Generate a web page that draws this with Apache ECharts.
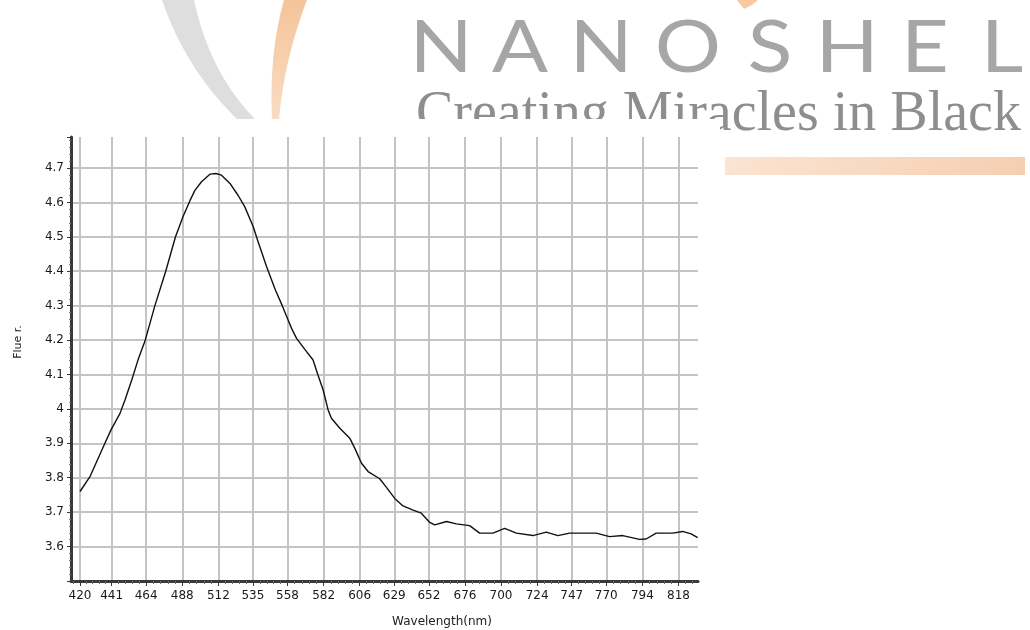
<!DOCTYPE html>
<html><head><meta charset="utf-8">
<script src="https://cdn.jsdelivr.net/npm/echarts@6/dist/echarts.min.js"></script>
<style>html,body{margin:0;padding:0;background:#fff}#c{width:1030px;height:630px}</style>
</head><body><div id="c"></div>
<script>
// ---- data ----
const wavelength = [420, 426.6, 435.5, 440.6, 446.6, 449.9, 454.4, 458.7, 463.2, 469.8, 477.0, 483.5, 488.6, 493.1, 496.4, 500.8, 506.4, 510.4, 514.1, 519.7, 525.2, 529.6, 535.2, 538.5, 544.1, 550.0, 554.5, 557.3, 560.7, 564.0, 569.5, 575.0, 578.3, 581.7, 585.0, 587.2, 592.8, 599.4, 602.7, 607.2, 611.6, 619.3, 623.8, 629.3, 634.8, 641.5, 647.0, 652.6, 655.9, 663.7, 670.3, 679.1, 685.8, 694.6, 702.4, 710.2, 721.2, 730.1, 737.8, 745.6, 763.3, 772.2, 781.0, 792.1, 796.5, 803.2, 814.2, 820.8, 826.4, 830.8];
const fluor = [3.760, 3.803, 3.890, 3.939, 3.987, 4.026, 4.084, 4.144, 4.197, 4.300, 4.400, 4.500, 4.560, 4.605, 4.635, 4.660, 4.682, 4.684, 4.679, 4.655, 4.620, 4.587, 4.529, 4.485, 4.413, 4.345, 4.300, 4.270, 4.234, 4.205, 4.173, 4.142, 4.098, 4.055, 3.997, 3.973, 3.944, 3.915, 3.886, 3.842, 3.818, 3.797, 3.772, 3.740, 3.718, 3.706, 3.697, 3.670, 3.663, 3.673, 3.666, 3.661, 3.639, 3.639, 3.653, 3.639, 3.632, 3.642, 3.632, 3.639, 3.639, 3.629, 3.632, 3.621, 3.622, 3.639, 3.639, 3.644, 3.637, 3.626];
const xTickLabels = [420, 441, 464, 488, 512, 535, 558, 582, 606, 629, 652, 676, 700, 724, 747, 770, 794, 818];
const yTickLabels = [3.6, 3.7, 3.8, 3.9, 4.0, 4.1, 4.2, 4.3, 4.4, 4.5, 4.6, 4.7];
const xAxisName = 'Wavelength(nm)';
const yAxisName = 'Flue r.';
const logoLetters = ['N', 'A', 'N', 'O', 'S', 'H', 'E', 'L'];
const tagline = 'Creating Miracles in Black';

// ---- layout ----
const xMin = 414, xMax = 831, yMin = 3.5, yMax = 4.79;
const gridRect = {left: 71, top: 137, width: 627, height: 444};

// minor tick positions between the labelled ticks
const xMinor = [];
for (let i = 0; i < xTickLabels.length - 1; i++) {
  const a = xTickLabels[i], b = xTickLabels[i + 1];
  for (let k = 1; k < 5; k++) xMinor.push(a + (b - a) * k / 5);
}
xMinor.push(822.7, 827.4, 415.8);

const data = wavelength.map((w, i) => [w, fluor[i]]);
const letterX = [441, 520, 601, 688, 770, 847, 925, 1002];

// decorative crescent shapes for the logo (quadratic edges sampled into polygons)
function quad(p0, c, p1, n) {
  const pts = [];
  for (let i = 0; i <= n; i++) {
    const t = i / n, u = 1 - t;
    pts.push([u * u * p0[0] + 2 * u * t * c[0] + t * t * p1[0], u * u * p0[1] + 2 * u * t * c[1] + t * t * p1[1]]);
  }
  return pts;
}
function crescent(a0, a1, ca, b0, b1, cb) {
  return quad(a0, ca, a1, 20).concat(quad(b1, cb, b0, 20));
}
function lin(x2, y2, c0, c1) {
  return {type: 'linear', x: 0, y: 0, x2: x2, y2: y2, colorStops: [{offset: 0, color: c0}, {offset: 1, color: c1}]};
}

const graphics = [];
graphics.push({type: 'polygon', z: -5, shape: {points: crescent([162, 0], [238, 120], [186, 70], [194, 0], [256, 120], [210, 74])}, style: {fill: '#dedede'}});
graphics.push({type: 'polygon', z: -5, shape: {points: crescent([284, 0], [272, 120], [269, 52], [307, 0], [279, 120], [284, 60])}, style: {fill: lin(0, 1, '#f5c49a', '#f9dcc4')}});
graphics.push({type: 'polygon', z: -5, shape: {points: [[737, 0], [758, 0], [752, 5], [744, 9]]}, style: {fill: '#f6c9a3'}});
logoLetters.forEach((ch, i) => {
  graphics.push({type: 'text', z: -5, x: letterX[i], y: 49, scaleX: 1.15,
    style: {text: ch, font: '400 72px Lato', fill: '#a6a6a6', align: 'center', verticalAlign: 'middle'}});
});
graphics.push({type: 'text', z: -5, x: 416, y: 115,
  style: {text: tagline, font: '56px "Liberation Serif"', fill: '#8e8e8e', align: 'left', verticalAlign: 'middle'}});
graphics.push({type: 'rect', z: -5, shape: {x: 725, y: 157, width: 300, height: 18}, style: {fill: lin(1, 0, '#fbe4d2', '#f5cfb1')}});
// white chart panel covering the logo
graphics.push({type: 'rect', z: -2, shape: {x: 0, y: 119, width: 720, height: 511}, style: {fill: '#ffffff'}});
// axis names
graphics.push({type: 'text', x: 442, y: 622,
  style: {text: xAxisName, font: '12px "DejaVu Sans"', fill: '#222', align: 'center', verticalAlign: 'middle'}});
graphics.push({type: 'text', x: 18, y: 342, rotation: Math.PI / 2,
  style: {text: yAxisName, font: '11px "DejaVu Sans"', fill: '#222', align: 'center', verticalAlign: 'middle'}});

const axisColor = '#3a3a3a';
const gridColor = '#c4c4c4';
const labelFont = {fontFamily: 'DejaVu Sans', fontSize: 12, color: '#1a1a1a'};

const option = {
  animation: false,
  backgroundColor: '#ffffff',
  graphic: {elements: graphics},
  grid: [Object.assign({}, gridRect), Object.assign({}, gridRect)],
  xAxis: [{
    type: 'value', gridIndex: 0, min: xMin, max: xMax,
    axisLine: {show: true, lineStyle: {color: axisColor, width: 3}},
    axisTick: {show: true, customValues: xTickLabels, length: 5, lineStyle: {color: axisColor, width: 1}},
    axisLabel: Object.assign({customValues: xTickLabels, margin: 9}, labelFont),
    splitLine: {show: true, lineStyle: {color: gridColor, width: 2}}
  }, {
    type: 'value', gridIndex: 1, min: xMin, max: xMax,
    axisLine: {show: false},
    axisTick: {show: true, customValues: xMinor, length: 3, lineStyle: {color: '#666', width: 1}},
    axisLabel: {show: false},
    splitLine: {show: false}
  }],
  yAxis: [{
    type: 'value', gridIndex: 0, min: yMin, max: yMax, interval: 0.1,
    axisLine: {show: true, lineStyle: {color: axisColor, width: 3}},
    axisTick: {show: true, length: 4, lineStyle: {color: axisColor}},
    minorTick: {show: true, splitNumber: 5, length: 2, lineStyle: {color: '#777'}},
    axisLabel: Object.assign({margin: 7, formatter: function (v) {
      const r = Math.round(v * 10) / 10;
      return yTickLabels.some(t => Math.abs(t - v) < 1e-6) ? String(r) : '';
    }}, labelFont),
    splitLine: {show: true, showMinLine: false, showMaxLine: false, lineStyle: {color: gridColor, width: 2}}
  }, {
    type: 'value', gridIndex: 1, min: yMin, max: yMax, show: false
  }],
  series: [{
    type: 'line', xAxisIndex: 0, yAxisIndex: 0, data: data,
    showSymbol: false, smooth: false, z: 5,
    lineStyle: {color: '#111', width: 1.4}
  }]
};
const chart = echarts.init(document.getElementById('c'));
chart.setOption(option);
</script></body></html>
